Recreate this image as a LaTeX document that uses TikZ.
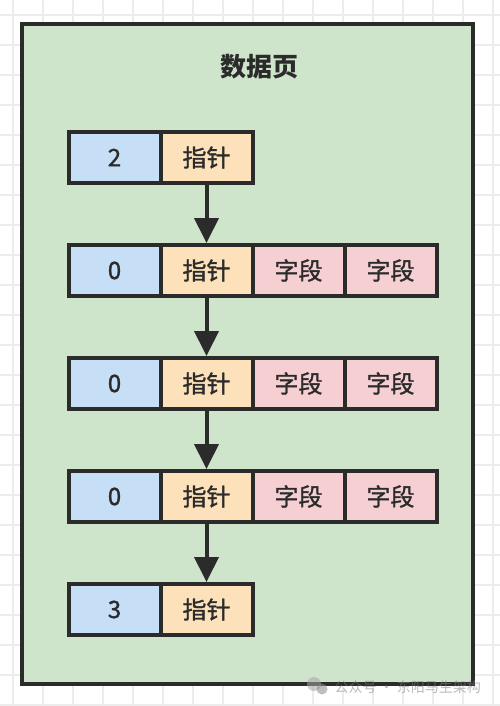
\documentclass[tikz,border=0pt]{standalone}
\usepackage{fontspec}
\setmainfont{Noto Sans CJK SC}
\newfontfamily\cellfont{Noto Sans CJK SC}[FakeBold=1.3]
\usetikzlibrary{arrows.meta}
\definecolor{pagebg}{HTML}{CFE5CB}
\definecolor{cellblue}{HTML}{C6DEF6}
\definecolor{cellorange}{HTML}{FCE1BA}
\definecolor{cellpink}{HTML}{F6CFD3}
\definecolor{ink}{HTML}{2B2B2B}
\definecolor{gridc}{HTML}{ECECEC}
\tikzset{
  cell/.style={draw=ink, line width=4pt, minimum width=92pt, minimum height=51pt,
    inner sep=0pt, text=ink, font=\cellfont\fontsize{24}{24}\selectfont},
  numcell/.style={cell, fill=cellblue},
  ptrcell/.style={cell, fill=cellorange},
  fieldcell/.style={cell, fill=cellpink},
  link/.style={draw=ink, line width=4pt, -{Triangle[width=24pt,length=25pt]}},
  gridline/.style={draw=gridc, line width=1.2pt},
}
\begin{document}
\begin{tikzpicture}[x=1pt,y=-1pt]
\useasboundingbox (0,0) rectangle (500,706);
\fill[white] (0,0) rectangle (500,706);
\foreach \gx in {13,43,...,493} \draw[gridline] (\gx,0) -- (\gx,706);
\foreach \gy in {15,45,...,705} \draw[gridline] (0,\gy) -- (500,\gy);
\draw[draw=ink, fill=pagebg, line width=4pt] (22,24) rectangle (473,684);
\node[text=ink, font=\fontsize{26}{26}\selectfont\bfseries] (title) at (259,67) {数据页};
% row 1
\node[numcell] (n1) at (114.5,157.5) {2};
\node[ptrcell] (p1) at (206.5,157.5) {指针};
% row 2
\node[numcell] (n2) at (114.5,270.5) {0};
\node[ptrcell] (p2) at (206.5,270.5) {指针};
\node[fieldcell] (f2a) at (298.5,270.5) {字段};
\node[fieldcell] (f2b) at (390.5,270.5) {字段};
% row 3
\node[numcell] (n3) at (114.5,383.5) {0};
\node[ptrcell] (p3) at (206.5,383.5) {指针};
\node[fieldcell] (f3a) at (298.5,383.5) {字段};
\node[fieldcell] (f3b) at (390.5,383.5) {字段};
% row 4
\node[numcell] (n4) at (114.5,496.5) {0};
\node[ptrcell] (p4) at (206.5,496.5) {指针};
\node[fieldcell] (f4a) at (298.5,496.5) {字段};
\node[fieldcell] (f4b) at (390.5,496.5) {字段};
% row 5
\node[numcell] (n5) at (114.5,609.5) {3};
\node[ptrcell] (p5) at (206.5,609.5) {指针};
% links
\draw[link] (p1.south) -- (p2.north);
\draw[link] (p2.south) -- (p3.north);
\draw[link] (p3.south) -- (p4.north);
\draw[link] (p4.south) -- (p5.north);
% watermark
\begin{scope}[opacity=0.55]
\fill[gray!70] (314,684) circle (7pt);
\fill[gray!90] (322,689) circle (5.5pt);
\node[text=gray, font=\fontsize{14}{14}\selectfont, anchor=west] (wm) at (331,687) {公众号 · 东阳马生架构};
\end{scope}
\end{tikzpicture}
\end{document}
